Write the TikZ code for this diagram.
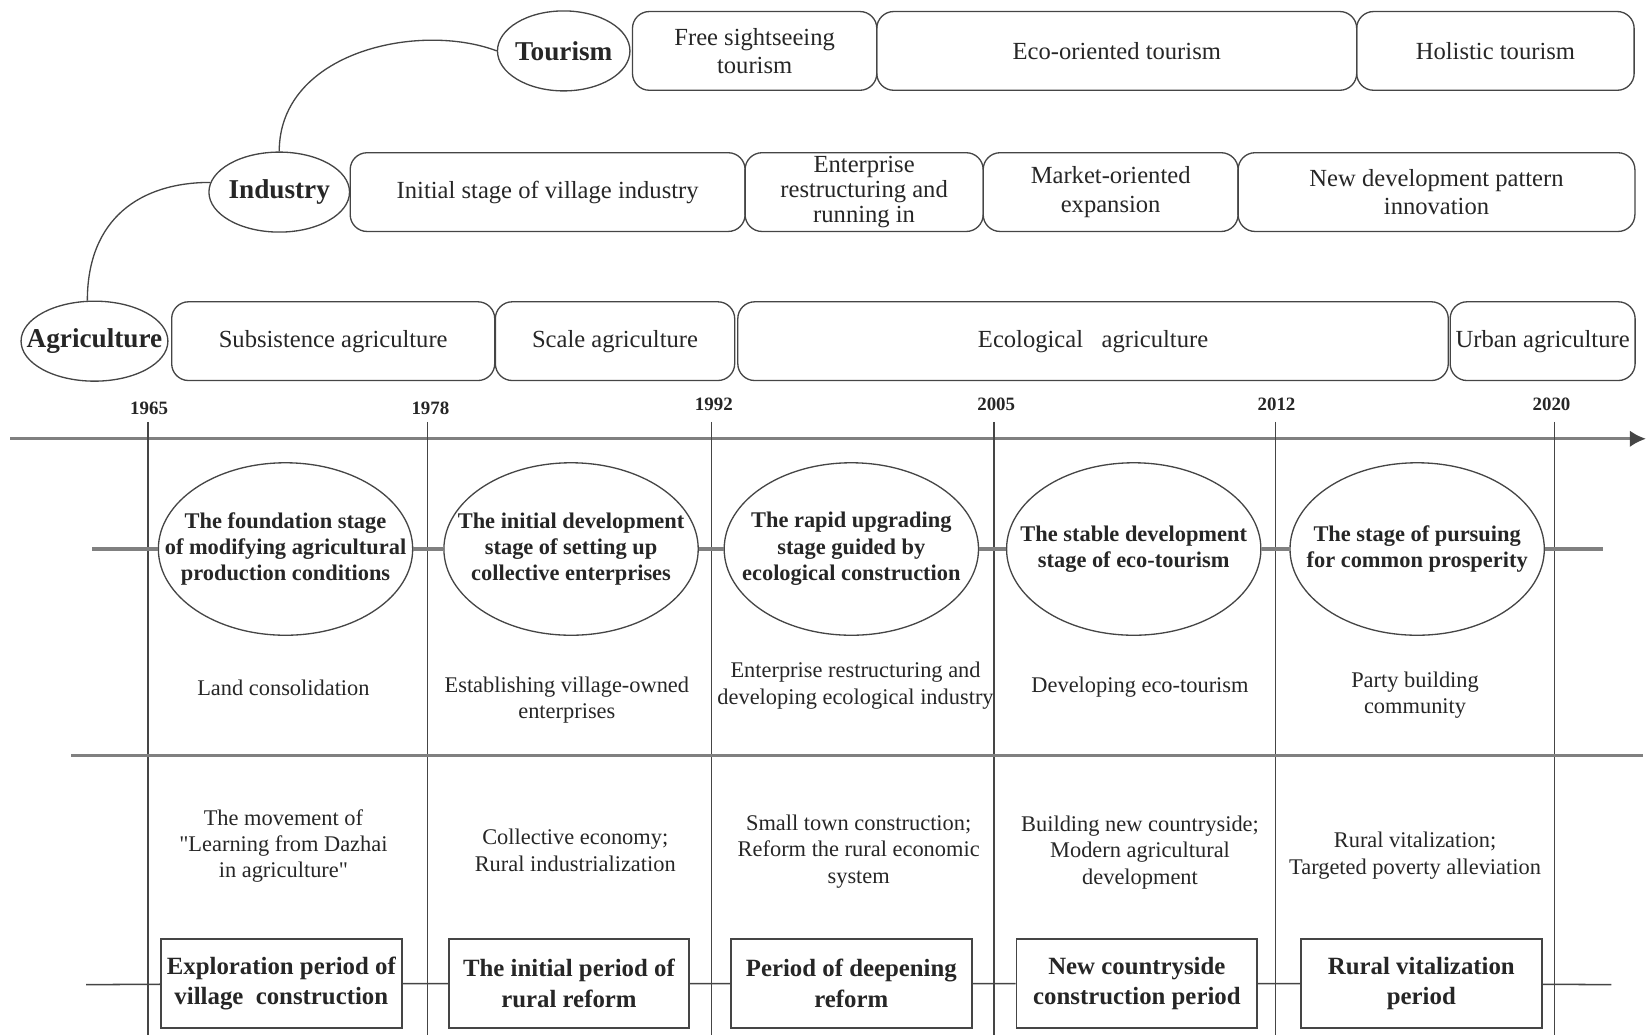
\documentclass[tikz,border=0pt]{standalone}
\usepackage{fontspec}
\setmainfont{Liberation Serif}[Ligatures=TeXOff]
\usetikzlibrary{arrows.meta,positioning,shapes.geometric}
\definecolor{linegray}{HTML}{454545}
\definecolor{bandgray}{HTML}{808080}

\begin{document}
\begin{tikzpicture}[x=0.0168cm,y=-0.0168cm,
  every node/.style={text=black!85,inner sep=1pt},
  catnode/.style={ellipse,draw=linegray,line width=0.6pt,minimum height=1.28cm,inner sep=0pt},
  cattext/.style={font=\fontsize{12.4}{14}\selectfont\bfseries},
  phasebox/.style={draw=linegray,line width=0.6pt,outer sep=0pt,rounded corners=0.27cm,minimum height=1.26cm,align=center,font=\fontsize{11.2}{12.9}\selectfont},
  stagenode/.style={ellipse,draw=linegray,line width=0.6pt,minimum width=4.07cm,minimum height=2.76cm,inner sep=0pt},
  stagetext/.style={align=center,font=\fontsize{10.2}{12}\selectfont\bfseries},
  notetext/.style={align=center,font=\fontsize{10.2}{12}\selectfont},
  periodbox/.style={draw=linegray,line width=0.8pt,minimum width=3.85cm,minimum height=1.43cm,align=center,font=\fontsize{11.3}{13.9}\selectfont\bfseries},
  band/.style={bandgray,line width=1.4pt},
  yearline/.style={linegray,line width=0.6pt},
  timeaxis/.style={bandgray,line width=1.4pt,-{Latex[length=0.26cm,width=0.27cm,color=linegray]}}]
  \useasboundingbox (0,0) rectangle (1568,986);

  % the three sectors and their phases
  \node[catnode,minimum width=2.35cm,label={[cattext]center:Agriculture}] (agr) at (90,325) {};
  \node[catnode,minimum width=2.25cm,label={[cattext]center:Industry}] (ind) at (266,183) {};
  \node[catnode,minimum width=2.12cm,label={[cattext]center:Tourism}] (tour) at (537,48.5) {};

  \node[phasebox,minimum width=3.91cm,right=0.03cm of tour] (t1) {Free sightseeing\\tourism};
  \node[phasebox,minimum width=7.68cm,right=0cm of t1] (t2) {Eco-oriented tourism};
  \node[phasebox,minimum width=4.44cm,right=0cm of t2] (t3) {Holistic tourism};

  \node[phasebox,minimum width=6.32cm,right=0cm of ind] (i1) {Initial stage of village industry};
  \node[phasebox,minimum width=3.81cm,right=0cm of i1,font=\fontsize{11.2}{11.4}\selectfont] (i2) {Enterprise\\restructuring and\\running in};
  \node[phasebox,minimum width=4.08cm,right=0cm of i2] (i3) {Market-oriented\\expansion};
  \node[phasebox,minimum width=6.35cm,right=0cm of i3] (i4) {New development pattern\\innovation};

  \node[phasebox,minimum width=5.17cm,right=0.05cm of agr] (a1) {Subsistence agriculture};
  \node[phasebox,minimum width=3.83cm,right=0.01cm of a1] (a2) {Scale agriculture};
  \node[phasebox,minimum width=11.37cm,right=0.05cm of a2] (a3) {Ecological\ \ \ agriculture};
  \node[phasebox,minimum width=2.96cm,right=0.03cm of a3] (a4) {Urban agriculture};

  \draw[linegray,line width=0.6pt] (agr.100) .. controls +(0,-78) and +(-67,0) .. (ind.172);
  \draw[linegray,line width=0.6pt] (ind.north) .. controls +(0,-95) and +(-74,-28) .. (tour.west);

  % time axis and years
  \draw[timeaxis] (10,418) -- (1568,418);
  \foreach \x/\lx/\yr/\yy in {141/142/1965/389,407/410/1978/389,678/680/1992/385,
                              947/949/2005/385,1215/1216/2012/385,1481/1478/2020/385}{
    \node[font=\fontsize{8.6}{10}\selectfont\bfseries] (y\yr) at (\lx,\yy) {\yr};
    \draw[yearline] (\x,402) -- (\x,986);
  }
  \draw[band] (68,720) -- (1565,720);

  % stages
  \node[stagenode,label={[stagetext]center:{The foundation stage\\of modifying agricultural\\production conditions}}] (s1) at (272,523) {};
  \node[stagenode,label={[stagetext]center:{The initial development\\stage of setting up\\collective enterprises}}] (s2) at (544,523) {};
  \node[stagenode,label={[stagetext]center:{The rapid upgrading\\stage guided by\\ecological construction}}] (s3) at (811,523) {};
  \node[stagenode,label={[stagetext]center:{The stable development\\stage of eco-tourism}}] (s4) at (1080,523) {};
  \node[stagenode,label={[stagetext]center:{The stage of pursuing\\for common prosperity}}] (s5) at (1350,523) {};
  \draw[band] (88,523) -- (s1) -- (s2) -- (s3) -- (s4) -- (s5) -- (1527,523);

  \node[notetext] (d1) at (270,655) {Land consolidation};
  \node[notetext] (d2) at (540,667) {Establishing village-owned\\enterprises};
  \node[notetext] (d3) at (815,653) {Enterprise restructuring and\\developing ecological industry};
  \node[notetext] (d4) at (1086,655) {Developing eco-tourism};
  \node[notetext] (d5) at (1348,662) {Party building\\community};

  \node[notetext] (p1) at (270,806) {The movement of\\"Learning from Dazhai\\in agriculture"};
  \node[notetext] (p2) at (548,810) {Collective economy;\\Rural industrialization};
  \node[notetext] (p3) at (818,811) {Small town construction;\\Reform the rural economic\\system};
  \node[notetext] (p4) at (1086,812) {Building new countryside;\\Modern agricultural\\development};
  \node[notetext] (p5) at (1348,815) {Rural vitalization;\\Targeted poverty alleviation};

  % periods
  \node[periodbox] (b1) at (268,937) {Exploration period of\\village\ \ construction};
  \node[periodbox] (b2) at (542,937) {The initial period of\\rural reform};
  \node[periodbox] (b3) at (811,937) {Period of deepening\\reform};
  \node[periodbox] (b4) at (1083,937) {New countryside\\construction period};
  \node[periodbox] (b5) at (1354,937) {Rural vitalization\\period};
  \draw[linegray,line width=0.7pt] (82,938) -- (b1) -- (b2) -- (b3) -- (b4) -- (b5) -- (1535,938);
\end{tikzpicture}
\end{document}
